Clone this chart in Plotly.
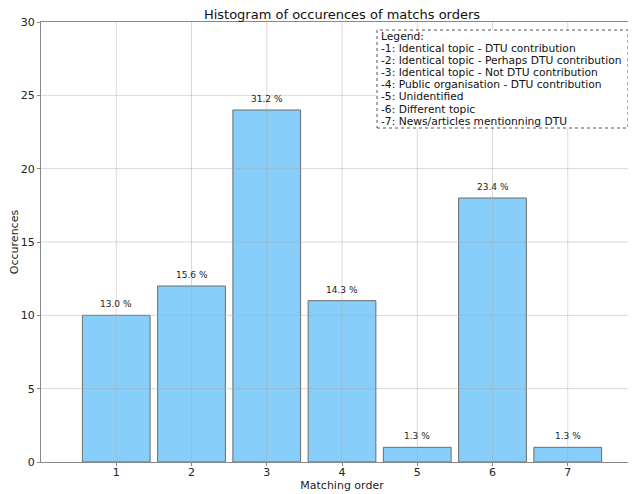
import plotly.graph_objects as go

orders = [1, 2, 3, 4, 5, 6, 7]
occurrences = [10, 12, 24, 11, 1, 18, 1]
y_ticks = [0, 5, 10, 15, 20, 25, 30]
legend_lines = [
    "Legend:",
    "-1: Identical topic - DTU contribution",
    "-2: Identical topic - Perhaps DTU contribution",
    "-3: Identical topic - Not DTU contribution",
    "-4: Public organisation - DTU contribution",
    "-5: Unidentified",
    "-6: Different topic",
    "-7: News/articles mentionning DTU",
]

total = sum(occurrences)
labels = [f"{v / total * 100:.1f} %" for v in occurrences]

font = "DejaVu Sans"
OFF = 8  # page body margin
W, H = 640, 486
# desired screen positions of plot area: left 41, right 643 (beyond window), top 22, bottom 462
ML, MT = 41 - OFF, 22 - OFF
MR = (W + OFF) - 643
MB = (H + OFF) - 462
PW, PH = W - ML - MR, H - MT - MB


def px_x(px):
    return (px - OFF - ML) / PW


def px_y(py):
    return (H - MB - (py - OFF)) / PH


fig = go.Figure()
fig.add_trace(go.Bar(
    x=orders, y=occurrences, width=0.9,
    marker=dict(color="#87CEFA", line=dict(color="#6b6b6b", width=1)),
))

for xv, yv, lab in zip(orders, occurrences, labels):
    fig.add_annotation(x=xv, y=yv, text=lab, showarrow=False, yanchor="bottom", yshift=4,
                       font=dict(family=font, size=9, color="#222"))

shapes = []
for t in orders:
    shapes.append(dict(type="line", xref="x", yref="paper", x0=t, x1=t, y0=0, y1=1,
                       line=dict(color="rgba(170,170,170,0.45)", width=1), layer="above"))
for t in y_ticks[1:-1]:
    shapes.append(dict(type="line", xref="paper", yref="y", x0=0, x1=1, y0=t, y1=t,
                       line=dict(color="rgba(170,170,170,0.45)", width=1), layer="above"))
# legend box
shapes.append(dict(type="rect", xref="paper", yref="paper",
                   x0=px_x(377), x1=px_x(628), y0=px_y(128), y1=px_y(30),
                   line=dict(color="#555", width=1, dash="dot"), fillcolor="white", layer="above"))

fig.update_layout(
    width=W, height=H,
    margin=dict(l=ML, r=MR, t=MT, b=MB, autoexpand=False),
    paper_bgcolor="white", plot_bgcolor="white",
    font=dict(family=font, size=11, color="#222"),
    showlegend=False,
    title=dict(text="Histogram of occurences of matchs orders", xref="paper", x=px_x(342),
               xanchor="center", yref="container", y=1 - (14.5 - OFF) / H, yanchor="middle",
               font=dict(family=font, size=13, color="#111")),
    xaxis=dict(range=[0, 8], tickvals=orders, ticks="outside", ticklen=3, tickcolor="#888",
               showgrid=False, showline=True, linecolor="#888", mirror=True, zeroline=False,
               automargin=False, ticklabelstandoff=-3,
               title=dict(text="Matching order", standoff=0, font=dict(size=11)),
               tickfont=dict(size=11)),
    yaxis=dict(range=[0, 30], tickvals=y_ticks, ticks="outside", ticklen=3, tickcolor="#888",
               showgrid=False, showline=True, linecolor="#888", mirror=True, zeroline=False,
               automargin=False,
               title=dict(text="Occurences", standoff=0, font=dict(size=11)),
               tickfont=dict(size=11)),
    shapes=shapes,
)

y0 = 36
for i, line in enumerate(legend_lines):
    fig.add_annotation(
        xref="paper", yref="paper", x=px_x(379), y=px_y(y0 + i * 12.2),
        xanchor="left", yanchor="middle", text=line, align="left", showarrow=False,
        font=dict(family=font, size=10.7, color="#111"),
    )
fig.write_html("out.html")
